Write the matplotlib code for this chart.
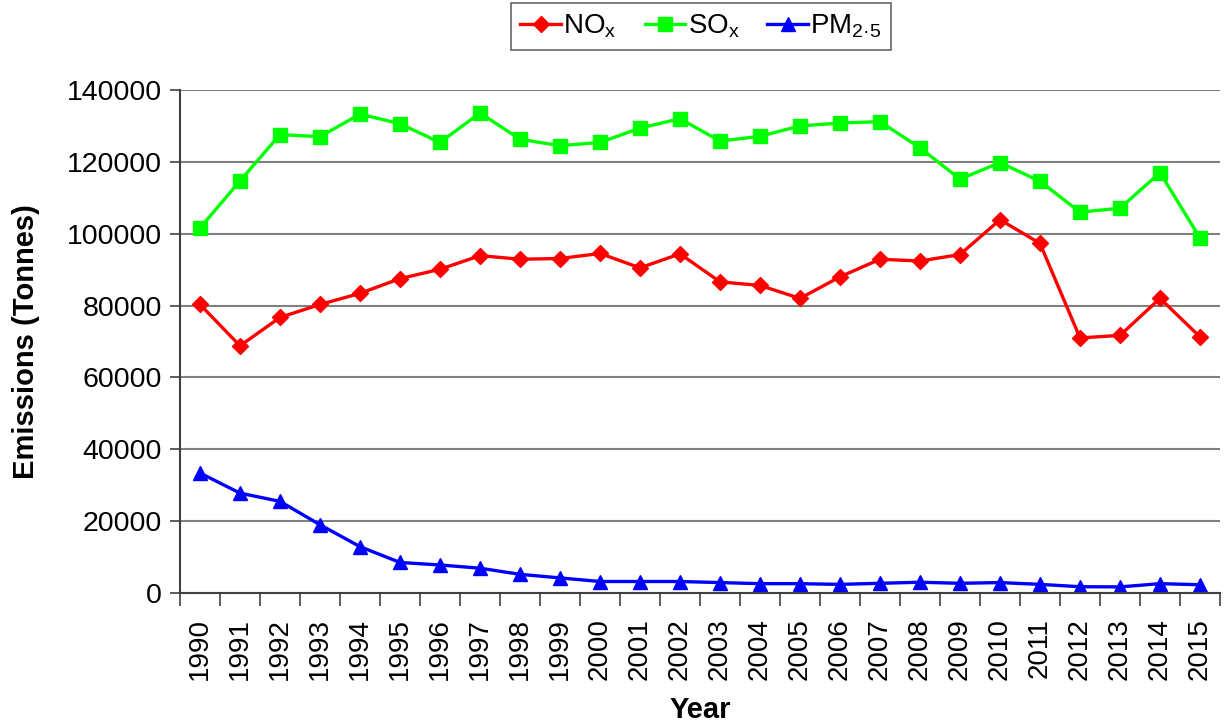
import numpy as np
import matplotlib.pyplot as plt

years = list(range(1990, 2016))

nox = [80300, 68800, 76700, 80300, 83400, 87500, 90100, 93900, 92900, 93100,
       94500, 90500, 94400, 86600, 85600, 82000, 88000, 92900, 92400, 94200,
       103900, 97300, 71000, 71700, 82000, 71300]
sox = [101600, 114700, 127600, 127000, 133300, 130600, 125400, 133600, 126300, 124500,
       125400, 129400, 132000, 125800, 127100, 130000, 130800, 131200, 123900, 115200,
       119800, 114600, 106000, 107100, 117000, 98800]
pm25 = [33400, 27800, 25500, 19000, 12900, 8500, 7800, 6900, 5200, 4200,
        3200, 3200, 3200, 2900, 2600, 2600, 2400, 2700, 3000, 2700,
        2900, 2400, 1750, 1700, 2600, 2300]

plt.rcParams['font.family'] = ['Liberation Sans', 'DejaVu Sans']
plt.rcParams['mathtext.default'] = 'regular'

fig = plt.figure(figsize=(12.24, 7.23), dpi=100)
ax = fig.add_axes([180 / 1224, 1 - 593 / 723, 1040 / 1224, 503 / 723])

x = np.arange(len(years))
ax.plot(x, nox, '-D', color='#FF0000', lw=2.4, ms=8, label='NO$_x$')
ax.plot(x, sox, '-s', color='#00FF00', lw=2.4, ms=10, label='SO$_x$')
ax.plot(x, pm25, '-^', color='#0000FF', lw=2.4, ms=10, label='PM$_{2\u00b75}$')

ax.set_xlim(-0.5, len(years) - 0.5)
ax.set_ylim(0, 140000)
ax.set_yticks(np.arange(0, 140001, 20000))
ax.tick_params(axis='y', labelsize=20.5, length=7, width=1.2, color='#404040', pad=6)

# category labels centred, tick marks between categories
ax.set_xticks(x)
ax.set_xticklabels([str(y) for y in years], rotation=90, fontsize=20)
ax.tick_params(axis='x', length=0, pad=18)
ax.set_xticks(np.arange(-0.5, len(years), 1), minor=True)
ax.tick_params(axis='x', which='minor', length=9, width=1.2, color='#404040')

ax.grid(axis='y', color='#808080', lw=1.5)
ax.set_axisbelow(True)
for side in ['top', 'right']:
    ax.spines[side].set_visible(False)
for side in ['left', 'bottom']:
    ax.spines[side].set_color('#404040')
    ax.spines[side].set_linewidth(1.5)

ax.set_ylabel('Emissions (Tonnes)', fontsize=21, fontweight='bold')
ax.yaxis.set_label_coords(-0.135, 0.5)
ax.set_xlabel('Year', fontsize=21, fontweight='bold')
ax.xaxis.set_label_coords(0.5, -0.205)

leg = ax.legend(loc='center', bbox_to_anchor=(0.501, 1.126), ncol=3, fontsize=20,
                frameon=True, fancybox=False, edgecolor='#404040',
                handlelength=1.45, columnspacing=1.0, handletextpad=0.1,
                borderpad=0.35, borderaxespad=0)
leg.get_frame().set_linewidth(1.2)

fig.savefig('out.png', dpi=100)
